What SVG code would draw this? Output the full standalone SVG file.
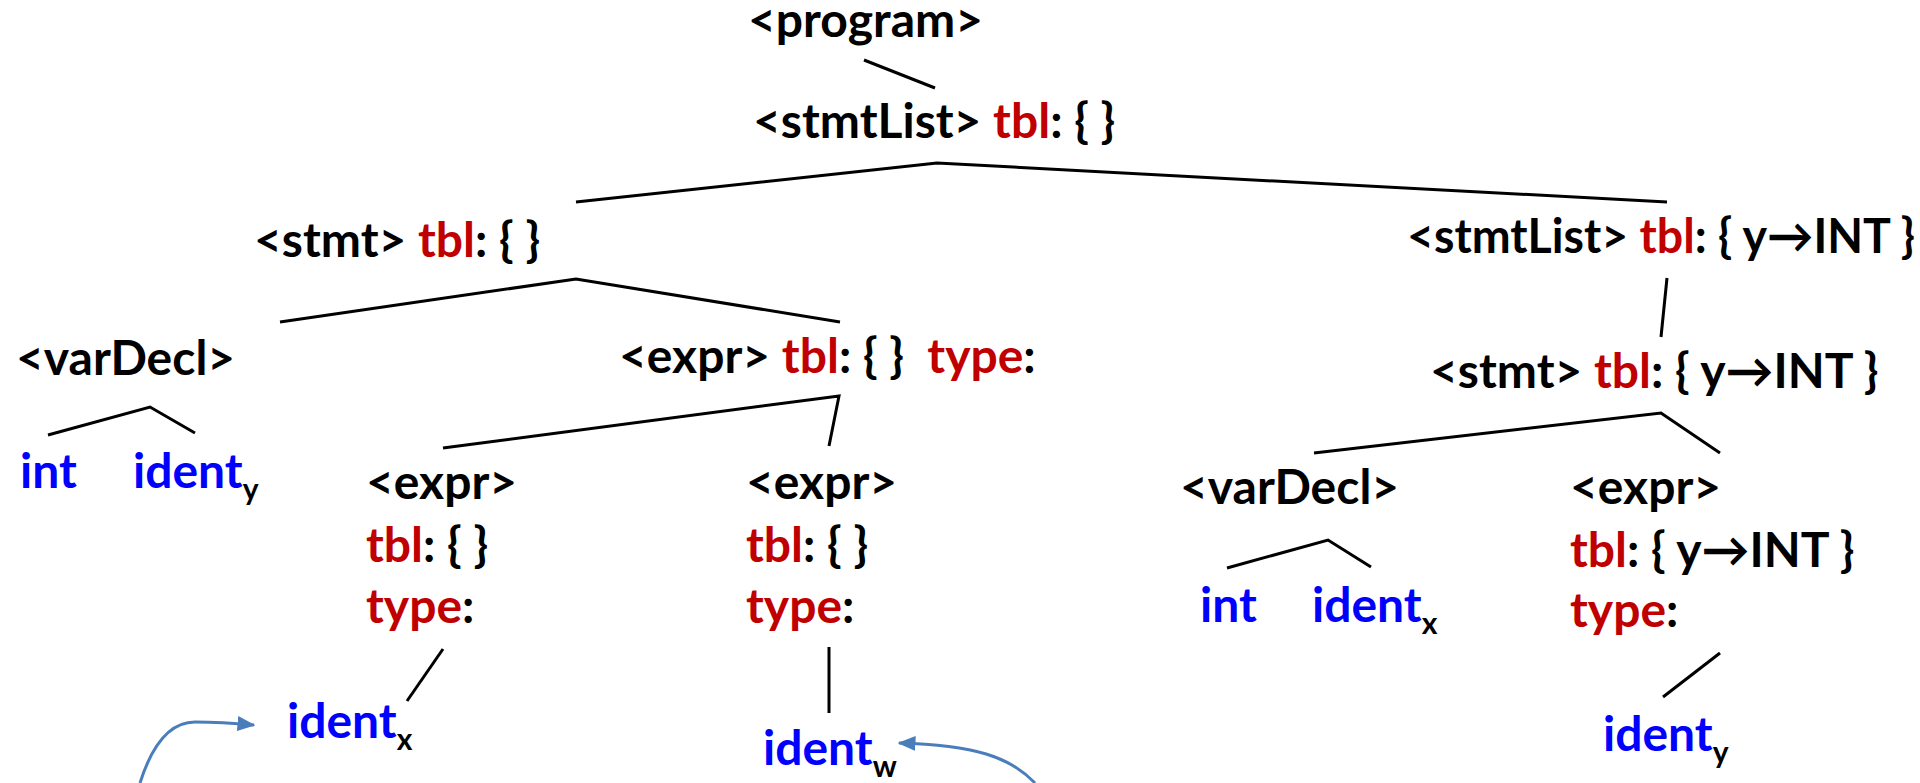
<svg xmlns="http://www.w3.org/2000/svg" width="1920" height="783" viewBox="0 0 1920 783">
<style>
text{font-family:Lato,"Open Sans","DejaVu Sans",sans-serif;font-weight:bold;font-size:48px;fill:#000}
.r{fill:#C00000}
.b{fill:#0000FF}
.s{font-size:30px;fill:#000}
.e{stroke:#000;stroke-width:3;fill:none}
.c{stroke:#4A7EBB;stroke-width:3;fill:none}
</style>
<defs>
<marker id="ah" viewBox="0 0 12 10" refX="11" refY="5" markerWidth="6" markerHeight="5" orient="auto" markerUnits="strokeWidth">
<path d="M0,0 L12,5 L0,10 z" fill="#4A7EBB"/>
</marker>
</defs>
<rect width="1920" height="783" fill="#fff"/>
<g id="connectors">
<line class="e" x1="864" y1="60" x2="935" y2="88"/>
<polyline class="e" points="576,202 937,163 1667,202"/>
<polyline class="e" points="280,322 576,279 840,322"/>
<line class="e" x1="1667" y1="278" x2="1661" y2="337"/>
<polyline class="e" points="48,435 150,407 195,433"/>
<polyline class="e" points="443,448 839,396 829,446"/>
<polyline class="e" points="1314,453 1661,413 1720,453"/>
<polyline class="e" points="1227,568 1328,540 1371,567"/>
<line class="e" x1="443" y1="649" x2="407" y2="701"/>
<line class="e" x1="829" y1="647" x2="829" y2="713"/>
<line class="e" x1="1720" y1="653" x2="1663" y2="697"/>
<path class="c" d="M140,783 C152,745 170,722 195,722 C215,722 232,723 254,725" marker-end="url(#ah)"/>
<path class="c" d="M1035,783 C1010,757 975,745 899,743" marker-end="url(#ah)"/>
</g>
<g id="program"><text x="748" y="37">&lt;program&gt;</text></g>
<g id="stmtList1"><text x="753" y="138">&lt;stmtList&gt; <tspan class="r">tbl</tspan>: { }</text></g>
<g id="stmt1"><text x="254" y="257">&lt;stmt&gt; <tspan class="r">tbl</tspan>: { }</text></g>
<g id="stmtList2"><text x="1407" y="253" textLength="508" lengthAdjust="spacingAndGlyphs">&lt;stmtList&gt; <tspan class="r">tbl</tspan>: { y→INT }</text></g>
<g id="varDecl1"><text x="16" y="375">&lt;varDecl&gt;</text></g>
<g id="expr1"><text x="619" y="373">&lt;expr&gt; <tspan class="r">tbl</tspan>: { }&#160; <tspan class="r">type</tspan>:</text></g>
<g id="stmt2"><text x="1430" y="388">&lt;stmt&gt; <tspan class="r">tbl</tspan>: { y→INT }</text></g>
<g id="int1"><text x="20" y="488" class="b">int</text></g>
<g id="identY1"><text x="133" y="488"><tspan class="b">ident</tspan><tspan class="s" dy="12">y</tspan></text></g>
<g id="expr2">
<text x="366" y="499">&lt;expr&gt;</text>
<text x="366" y="562"><tspan class="r">tbl</tspan>: { }</text>
<text x="366" y="623"><tspan class="r">type</tspan>:</text>
</g>
<g id="expr3">
<text x="746" y="499">&lt;expr&gt;</text>
<text x="746" y="562"><tspan class="r">tbl</tspan>: { }</text>
<text x="746" y="623"><tspan class="r">type</tspan>:</text>
</g>
<g id="varDecl2"><text x="1180" y="504">&lt;varDecl&gt;</text></g>
<g id="expr4">
<text x="1570" y="504">&lt;expr&gt;</text>
<text x="1570" y="567"><tspan class="r">tbl</tspan>: { y→INT }</text>
<text x="1570" y="627"><tspan class="r">type</tspan>:</text>
</g>
<g id="int2"><text x="1200" y="622" class="b">int</text></g>
<g id="identX1"><text x="1312" y="622"><tspan class="b">ident</tspan><tspan class="s" dy="12">x</tspan></text></g>
<g id="identX2"><text x="287" y="738"><tspan class="b">ident</tspan><tspan class="s" dy="12">x</tspan></text></g>
<g id="identW"><text x="763" y="765"><tspan class="b">ident</tspan><tspan class="s" dy="12">w</tspan></text></g>
<g id="identY2"><text x="1603" y="751"><tspan class="b">ident</tspan><tspan class="s" dy="12">y</tspan></text></g>
</svg>
